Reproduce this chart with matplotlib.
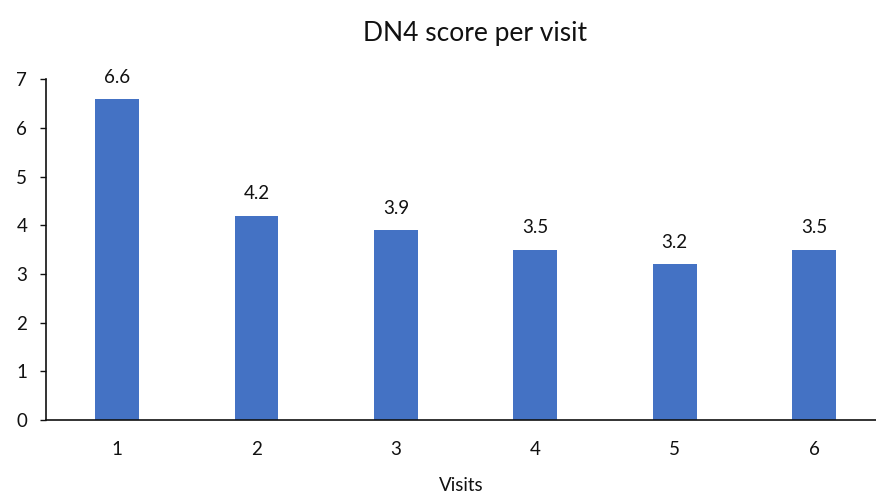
import numpy as np
import matplotlib
matplotlib.use("Agg")
import matplotlib.pyplot as plt

plt.rcParams['font.family'] = ['Lato', 'DejaVu Sans']

visits = [1, 2, 3, 4, 5, 6]
dn4_scores = [6.6, 4.2, 3.9, 3.5, 3.2, 3.5]
y_ticks = [0, 1, 2, 3, 4, 5, 6, 7]

fig = plt.figure(figsize=(8.76, 4.99), dpi=100)
ax = fig.add_axes([46 / 876, 79 / 499, 1 - 46 / 876, 340.7 / 499])

bars = ax.bar(visits, dn4_scores, width=0.315, color='#4472C4')
for x, v in zip(visits, dn4_scores):
    ax.annotate(f"{v:.1f}", (x, v), xytext=(0, 9.5), textcoords='offset points',
                ha='center', va='bottom', fontsize=13.5, color='#111111')

ax.set_xlim(0.49, 6.445)
ax.set_ylim(0, 7)
ax.set_yticks(y_ticks)
ax.set_xticks(visits)
ax.tick_params(axis='y', length=4.5, width=1, direction='out', pad=9,
               labelsize=13.5, colors='#111111')
ax.tick_params(axis='x', length=0, pad=15, labelsize=13.5, colors='#111111')
for s in ['top', 'right']:
    ax.spines[s].set_visible(False)
for s in ['left', 'bottom']:
    ax.spines[s].set_linewidth(1.2)
    ax.spines[s].set_color('#111111')

ax.set_xlabel("Visits", fontsize=13.5, labelpad=14, color='#111111')
fig.text(475 / 876, 1 - 33 / 499, "DN4 score per visit", ha='center', va='center',
         fontsize=19, color='#111111')

fig.savefig("out.png", dpi=100)
